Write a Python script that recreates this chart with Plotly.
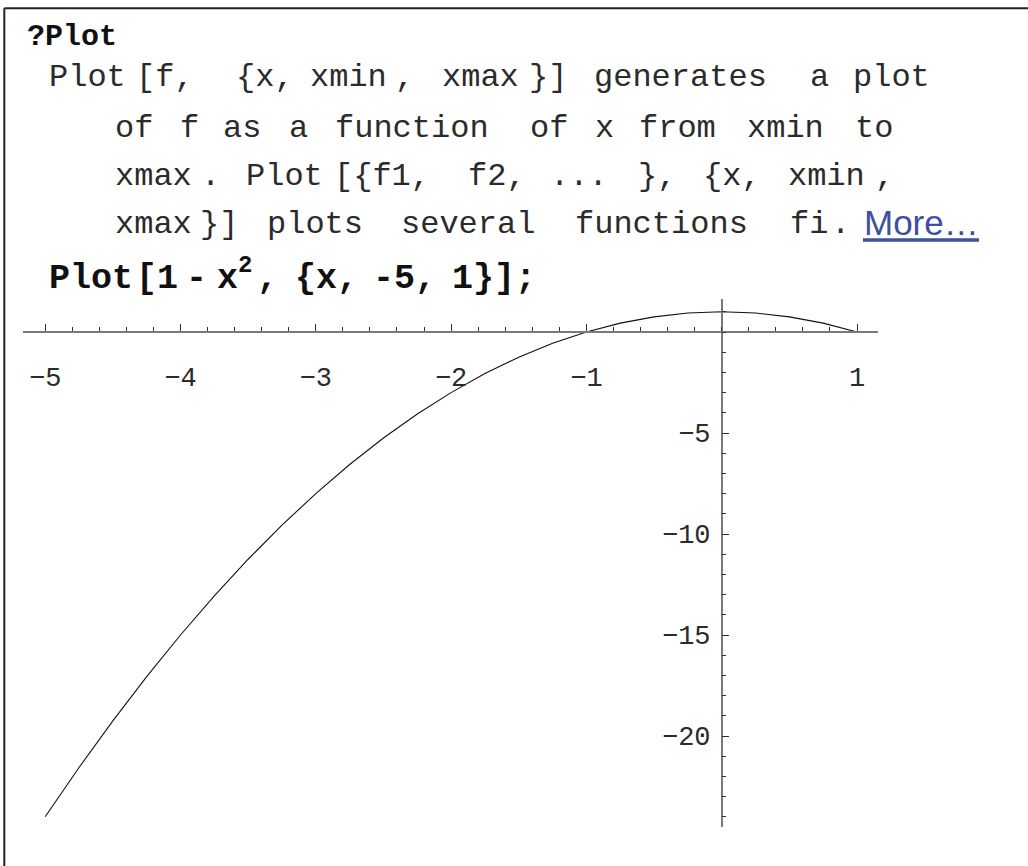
import plotly.graph_objects as go

# ---- data -------------------------------------------------------------
x_vals = [-5.0, -4.75, -4.5, -4.25, -4.0, -3.75, -3.5, -3.25, -3.0, -2.75,
          -2.5, -2.25, -2.0, -1.75, -1.5, -1.25, -1.0, -0.75, -0.5, -0.25,
          0.0, 0.25, 0.5, 0.75, 1.0]
y_vals = [-24.0, -21.56, -19.25, -17.06, -15.0, -13.06, -11.25, -9.56, -8.0,
          -6.56, -5.25, -4.06, -3.0, -2.06, -1.25, -0.56, 0.0, 0.44, 0.75,
          0.94, 1.0, 0.94, 0.75, 0.44, 0.0]

x_tick_vals = [-5, -4, -3, -2, -1, 1]
x_tick_text = ["\u22125", "\u22124", "\u22123", "\u22122", "\u22121", "1"]
y_tick_vals = [-20, -15, -10, -5]
y_tick_text = ["\u221220", "\u221215", "\u221210", "\u22125"]

# ---- page geometry ----------------------------------------------------
W, H = 1028, 866
X0_PX, X_SCALE = 721.7, 135.3      # pixel of x=0, pixels per x unit
Y0_PX, Y_SCALE = 332.0, 20.2       # pixel of y=0, pixels per y unit
X_AXIS_PX = (23.3, 877.7)          # horizontal extent of the x axis line
Y_AXIS_PX = (299.3, 827.3)         # vertical extent of the y axis line


def px_x(p):
    return p / W


def px_y(p):
    return 1 - p / H


x_range = [(X_AXIS_PX[0] - X0_PX) / X_SCALE, (X_AXIS_PX[1] - X0_PX) / X_SCALE]
y_range = [-(Y_AXIS_PX[1] - Y0_PX) / Y_SCALE, -(Y_AXIS_PX[0] - Y0_PX) / Y_SCALE]

AXIS_GRAY = "#7a7a7a"
TEXT_COLOR = "#2b2b2b"
TICK_FONT = dict(family="Liberation Mono", size=27, color=TEXT_COLOR)

fig = go.Figure()
fig.add_trace(go.Scatter(
    x=x_vals, y=y_vals, mode="lines",
    line=dict(color="#111111", width=1.1),
    hoverinfo="skip", showlegend=False,
))

fig.update_layout(
    width=W, height=H,
    margin=dict(l=0, r=0, t=0, b=0),
    paper_bgcolor="white", plot_bgcolor="white",
    showlegend=False,
    xaxis=dict(
        domain=[px_x(X_AXIS_PX[0]), px_x(X_AXIS_PX[1])],
        range=x_range, anchor="free", position=px_y(Y0_PX),
        showgrid=False, zeroline=False,
        showline=True, linecolor=AXIS_GRAY, linewidth=1.5,
        tickmode="array", tickvals=x_tick_vals, ticktext=x_tick_text,
        ticks="inside", ticklen=7, tickwidth=1, tickcolor="#333333",
        tickfont=TICK_FONT, ticklabelstandoff=21,
        minor=dict(ticks="inside", ticklen=4, tickwidth=1, tickcolor="#333333",
                   tick0=0, dtick=0.2, showgrid=False),
        fixedrange=True,
    ),
    yaxis=dict(
        domain=[px_y(Y_AXIS_PX[1]), px_y(Y_AXIS_PX[0])],
        range=y_range, anchor="free", position=px_x(X0_PX),
        showgrid=False, zeroline=False,
        showline=True, linecolor=AXIS_GRAY, linewidth=1.5,
        tickmode="array", tickvals=y_tick_vals, ticktext=y_tick_text,
        ticks="inside", ticklen=7, tickwidth=1, tickcolor="#333333",
        tickfont=TICK_FONT, ticklabelstandoff=5,
        minor=dict(ticks="inside", ticklen=4, tickwidth=1, tickcolor="#333333",
                   tick0=0, dtick=1, showgrid=False),
        fixedrange=True,
    ),
)

# ---- notebook text above the graphic ------------------------------------
MONO = "Liberation Mono"


def add_text(text, left_px, baseline_px, size, bold=False, color=TEXT_COLOR,
             family=MONO, ascent=0.833, descent=0.300):
    centre = baseline_px - (ascent - (ascent + descent) / 2) * size
    fig.add_annotation(
        text=f"<b>{text}</b>" if bold else text,
        x=px_x(left_px - 1), y=px_y(centre),
        xref="paper", yref="paper", xanchor="left", yanchor="middle",
        showarrow=False, font=dict(family=family, size=size, color=color),
    )


add_text("?Plot", 26.0, 45.0, 30, bold=True, color="#111111")

lines = [
    (86.0, [("Plot", 47.5), ("[f,", 135.0), ("{x,", 235.0), ("xmin", 309.0),
            (",", 394.0), ("xmax", 440.5), ("}]", 528.0), ("generates", 593.0),
            ("a", 809.0), ("plot", 852.0)]),
    (136.7, [("of", 113.5), ("f", 179.0), ("as", 221.5), ("a", 288.0),
             ("function", 333.5), ("of", 528.5), ("x", 594.0), ("from", 638.0),
             ("xmin", 745.5), ("to", 853.5)]),
    (185.0, [("xmax", 114.0), (".", 200.0), ("Plot", 245.0), ("[{f1,", 333.0),
             ("f2,", 467.0), ("...", 549.0), ("},", 637.0), ("{x,", 702.0),
             ("xmin", 787.0), (",", 874.0)]),
    (233.0, [("xmax", 114.0), ("}]", 199.0), ("plots", 265.5),
             ("several", 399.5), ("functions", 573.5), ("fi", 788.5),
             (".", 830.0)]),
]
for baseline, tokens in lines:
    for text, left in tokens:
        add_text(text, left, baseline, 32)

# hyperlink-style "More…"
LINK_BLUE = "#3f4fa0"
add_text("More\u2026", 862.5, 235.0, 35, color=LINK_BLUE,
         family="Liberation Sans", ascent=0.905, descent=0.212)
fig.add_shape(type="line", xref="paper", yref="paper",
              x0=px_x(863.0), x1=px_x(979.0), y0=px_y(240.0), y1=px_y(240.0),
              line=dict(color=LINK_BLUE, width=3.5))

# input cell: Plot[1 - x^2, {x, -5, 1}];
bold_tokens = [("Plot", 48.0), ("[1", 134.5), ("-", 185.0), ("x", 215.5),
               (",", 256.0), ("{x,", 294.0), ("-5,", 372.0), ("1}]", 451.0),
               (";", 514.0)]
for text, left in bold_tokens:
    add_text(text, left, 288.3, 35, bold=True, color="#111111")
add_text("2", 237.0, 271.7, 24, bold=True, color="#111111")

# cell frame (left and top edges)
frame = dict(color="#222222", width=2)
fig.add_shape(type="line", xref="paper", yref="paper",
              x0=px_x(4.3), x1=px_x(4.3), y0=0, y1=px_y(8.3), line=frame)
fig.add_shape(type="line", xref="paper", yref="paper",
              x0=px_x(4.3), x1=1, y0=px_y(8.3), y1=px_y(8.3), line=frame)

fig.write_html("out.html", config={"displayModeBar": False})
